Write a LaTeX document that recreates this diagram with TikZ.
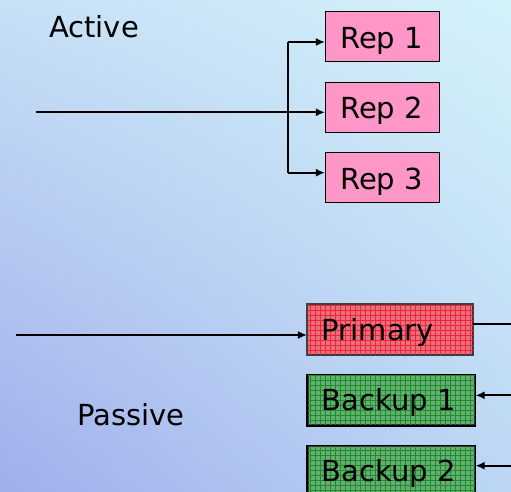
\documentclass[tikz,border=0pt]{standalone}
\usepackage{fontspec}
\setmainfont{DejaVu Sans}
\usetikzlibrary{arrows.meta,shadings}
\definecolor{bgUL}{RGB}{198,224,246}
\definecolor{bgUR}{RGB}{212,242,250}
\definecolor{bgLL}{RGB}{160,174,235}
\definecolor{bgLR}{RGB}{188,214,244}
\definecolor{repfill}{RGB}{255,150,200}
\definecolor{primfill}{RGB}{230,112,128}
\definecolor{primgrid}{RGB}{245,35,50}
\definecolor{backfill}{RGB}{100,174,114}
\definecolor{backgrid}{RGB}{30,140,45}
\begin{document}
\begin{tikzpicture}[x=1bp,y=-1bp,
  conn/.style={line width=1.8bp,-{Latex[length=9bp,width=8bp]}},
  plain/.style={line width=1.8bp},
  repbox/.style={draw=black,line width=1.5bp,fill=repfill,minimum width=114bp,minimum height=50bp,inner sep=0pt},
  gridbox/.style={draw=black!80,line width=1.5bp,minimum width=165bp,minimum height=50bp,inner sep=0pt},
  lbl/.style={font=\fontsize{29bp}{32bp}\selectfont,inner sep=0pt,anchor=base west}]
\useasboundingbox (0,0) rectangle (511,492);
\shade[upper left=bgUL,upper right=bgUR,lower left=bgLL,lower right=bgLR] (0,0) rectangle (511,492);
\begin{scope}
\clip (0,0) rectangle (511,492);
% labels
\node[lbl] (active) at (49,38) {Active};
\node[lbl] (passive) at (77,425) {Passive};
% active replicas
\node[repbox] (rep1) at (382.7,36.7) {};
\node[repbox] (rep2) at (382.7,107.3) {};
\node[repbox] (rep3) at (382.7,177.7) {};
\node[lbl] (t1) at (340,48.3) {Rep 1};
\node[lbl] (t2) at (340,119) {Rep 2};
\node[lbl] (t3) at (340,189.3) {Rep 3};
\coordinate (inA) at (36,112.3);
\coordinate (br1) at (287.7,42);
\coordinate (br2) at (287.7,112.3);
\coordinate (br3) at (287.7,172.7);
\draw[conn] (inA) -- (rep2.west |- br2);
\draw[plain] (br1) -- (br3);
\draw[conn] (br1) -- (rep1.west |- br1);
\draw[conn] (br3) -- (rep3.west |- br3);
% passive
\node[gridbox,fill=primfill] (prim) at (390.2,329.5) {};
\node[gridbox,fill=backfill,minimum width=167bp] (back1) at (391.3,400.2) {};
\node[gridbox,fill=backfill,minimum width=167bp] (back2) at (391.3,471) {};
\begin{scope}
\clip (prim.south west) rectangle (prim.north east);
\draw[primgrid,line width=0.45bp,step=5bp] (prim.south west) grid (prim.north east);
\end{scope}
\begin{scope}
\clip (back1.south west) rectangle (back1.north east);
\draw[backgrid,line width=0.45bp,step=5bp] (back1.south west) grid (back1.north east);
\end{scope}
\begin{scope}
\clip (back2.south west) rectangle (back2.north east);
\draw[backgrid,line width=0.45bp,step=5bp] (back2.south west) grid (back2.north east);
\end{scope}
\draw[black!75,line width=1.5bp] (prim.south west) rectangle (prim.north east);
\draw[black,line width=1.5bp] (back1.south west) rectangle (back1.north east);
\draw[black,line width=1.5bp] (back2.south west) rectangle (back2.north east);
\node[lbl] (tp) at (321.7,340) {Primary};
\node[lbl] (tb1) at (321.7,410.5) {Backup 1};
\node[lbl] (tb2) at (321.7,481) {Backup 2};
\coordinate (inP) at (16,335);
\coordinate (outP) at (511,324.3);
\coordinate (inB1) at (511,395.3);
\coordinate (inB2) at (511,465.7);
\draw[conn] (inP) -- (prim.west |- inP);
\draw[plain] (prim.east |- outP) -- (outP);
\draw[conn] (inB1) -- (back1.east |- inB1);
\draw[conn] (inB2) -- (back2.east |- inB2);
\end{scope}
\end{tikzpicture}
\end{document}
